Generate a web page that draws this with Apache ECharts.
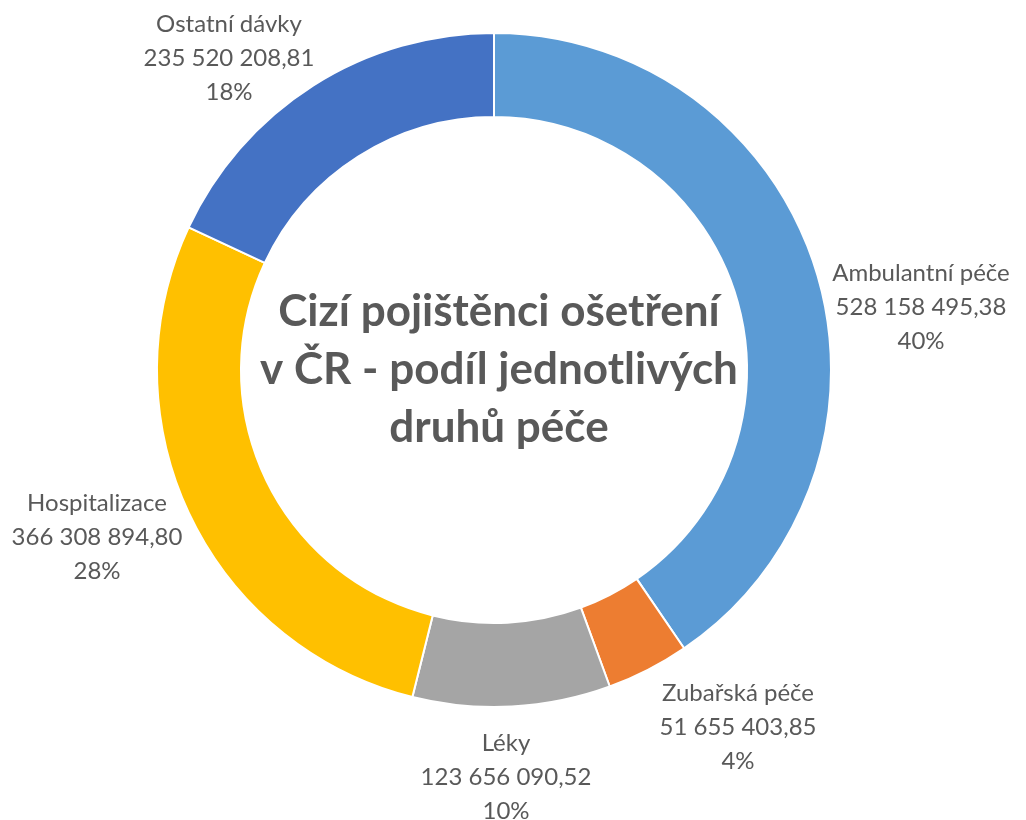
<!DOCTYPE html>
<html>
<head>
<meta charset="utf-8">
<script src="https://cdn.jsdelivr.net/npm/echarts@6/dist/echarts.min.js"></script>
<style>
  html, body { margin: 0; padding: 0; background: #fff; }
  #chart { width: 1026px; height: 820px; }
</style>
</head>
<body>
<div id="chart"></div>
<script>
// data
var categories = ['Ambulantní péče', 'Zubařská péče', 'Léky', 'Hospitalizace', 'Ostatní dávky']
var values = [528158495.38, 51655403.85, 123656090.52, 366308894.80, 235520208.81]
var colors = ['#5B9BD5', '#ED7D31', '#A5A5A5', '#FFC000', '#4472C4']

// label offsets from the donut centre (layout only)
var labelOffsets = [[427, -63], [244, 357], [12, 407], [-397, 167], [-265, -312]]
var cx = 494, cy = 370

function fmtNum(v) {
  var parts = v.toFixed(2).split('.')
  return parts[0].replace(/\B(?=(\d{3})+(?!\d))/g, ' ') + ',' + parts[1]
}

var chart = echarts.init(document.getElementById('chart'))
chart.setOption({
  animation: false,
  title: {
    text: 'Cizí pojištěnci ošetření\nv ČR - podíl jednotlivých\ndruhů péče',
    left: cx,
    top: 278,
    textAlign: 'center',
    textStyle: {
      fontFamily: 'Lato',
      fontWeight: 'bold',
      fontSize: 44,
      lineHeight: 58,
      color: '#595959'
    }
  },
  series: [
    {
      type: 'pie',
      center: [cx, cy],
      radius: [253, 337],
      startAngle: 90,
      clockwise: true,
      percentPrecision: 0,
      data: categories.map(function (name, i) {
        return { name: name, value: values[i], itemStyle: { color: colors[i] } }
      }),
      itemStyle: {
        borderColor: '#fff',
        borderWidth: 2
      },
      label: {
        show: true,
        position: 'outside',
        overflow: 'none',
        edgeDistance: 0,
        formatter: function (p) {
          return p.name + '\n' + fmtNum(p.value) + '\n' + p.percent + '%'
        },
        fontFamily: 'Lato',
        fontSize: 24,
        lineHeight: 34,
        color: '#595959'
      },
      labelLine: { show: false },
      labelLayout: function (params) {
        var o = labelOffsets[params.dataIndex]
        return {
          x: cx + o[0],
          y: cy + o[1],
          align: 'center',
          verticalAlign: 'middle'
        }
      },
      emphasis: { disabled: true }
    }
  ]
})
</script>
</body>
</html>
